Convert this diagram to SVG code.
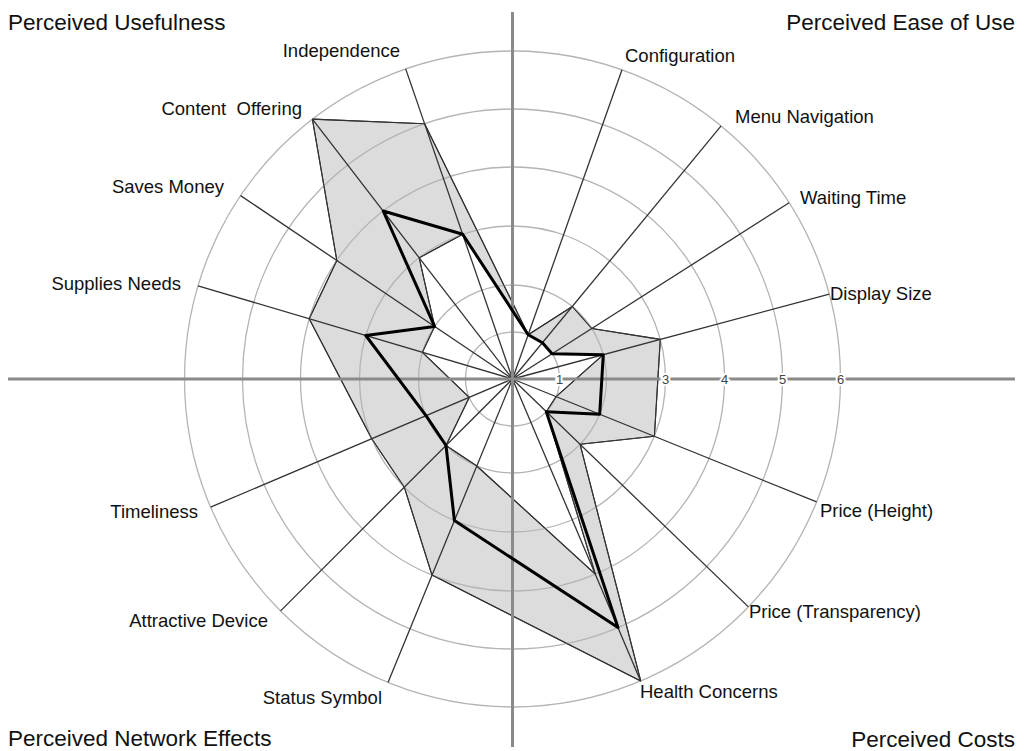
<svg xmlns="http://www.w3.org/2000/svg" width="1024" height="751" viewBox="0 0 1024 751">
<style>
.bg{fill:#ffffff}
.ring{fill:none;stroke:#b4b4b4;stroke-width:1.3}
.spoke{stroke:#333;stroke-width:1.3}
.axis{stroke:#8a8a8a;stroke-width:3}
.maxs{fill:#dcdcdc;stroke:#333;stroke-width:1.1;stroke-linejoin:round}
.mins{fill:#ffffff;stroke:#333;stroke-width:1.1;stroke-linejoin:round}
.mean{fill:none;stroke:#000;stroke-width:3;stroke-linejoin:round}
.lbl{font-family:"Liberation Sans",Arial,sans-serif;font-size:18.5px;fill:#111}
.quad{font-family:"Liberation Sans",Arial,sans-serif;font-size:22.5px;fill:#111}
.tick{font-family:"Liberation Sans",Arial,sans-serif;font-size:13px;fill:#444;text-anchor:middle;stroke:#fff;stroke-width:4;paint-order:stroke}
</style>
<rect class="bg" x="0" y="0" width="1024" height="751"/>
<g id="series-max">
<polygon class="maxs" points="528.2,334.7 572.3,306.5 591.8,328.5 660.3,339.4 654.4,436.3 580.1,444.3 640.7,680.9 432.0,575.1 404.3,487.2 371.7,438.8 309.2,318.8 336.8,260.4 312.4,119.1 424.6,123.7"/>
</g>
<g id="series-min">
<polygon class="mins" points="528.2,334.7 542.4,342.7 552.1,353.7 603.3,354.7 556.1,396.6 546.3,411.7 595.3,574.1 476.8,466.0 446.0,445.5 469.2,397.4 422.4,352.3 434.6,326.4 419.2,257.8 462.7,234.3"/>
</g>
<g id="grid">
<circle class="ring" cx="512.5" cy="379" r="47"/>
<circle class="ring" cx="512.5" cy="379" r="94"/>
<circle class="ring" cx="512.5" cy="379" r="153"/>
<circle class="ring" cx="512.5" cy="379" r="212"/>
<circle class="ring" cx="512.5" cy="379" r="270"/>
<circle class="ring" cx="512.5" cy="379" r="328"/>
</g>
<g id="connectors">
<line class="spoke" x1="512.5" y1="379" x2="622.0" y2="69.8"/>
<line class="spoke" x1="512.5" y1="379" x2="721.1" y2="125.9"/>
<line class="spoke" x1="512.5" y1="379" x2="789.1" y2="202.8"/>
<line class="spoke" x1="512.5" y1="379" x2="829.3" y2="294.1"/>
<line class="spoke" x1="512.5" y1="379" x2="816.6" y2="501.9"/>
<line class="spoke" x1="512.5" y1="379" x2="748.4" y2="606.9"/>
<line class="spoke" x1="512.5" y1="379" x2="640.6" y2="680.9"/>
<line class="spoke" x1="512.5" y1="379" x2="388.0" y2="682.5"/>
<line class="spoke" x1="512.5" y1="379" x2="280.6" y2="610.9"/>
<line class="spoke" x1="512.5" y1="379" x2="210.6" y2="507.1"/>
<line class="spoke" x1="512.5" y1="379" x2="198.0" y2="285.8"/>
<line class="spoke" x1="512.5" y1="379" x2="240.6" y2="195.6"/>
<line class="spoke" x1="512.5" y1="379" x2="312.4" y2="119.1"/>
<line class="spoke" x1="512.5" y1="379" x2="405.7" y2="68.9"/>
</g>
<g id="outlines">
<polygon fill="none" stroke="#333" stroke-width="1.1" stroke-linejoin="round" points="528.2,334.7 572.3,306.5 591.8,328.5 660.3,339.4 654.4,436.3 580.1,444.3 640.7,680.9 432.0,575.1 404.3,487.2 371.7,438.8 309.2,318.8 336.8,260.4 312.4,119.1 424.6,123.7"/>
<polygon fill="none" stroke="#333" stroke-width="1.1" stroke-linejoin="round" points="528.2,334.7 542.4,342.7 552.1,353.7 603.3,354.7 556.1,396.6 546.3,411.7 595.3,574.1 476.8,466.0 446.0,445.5 469.2,397.4 422.4,352.3 434.6,326.4 419.2,257.8 462.7,234.3"/>
</g>
<g id="axes">
<line class="axis" x1="8" y1="379" x2="1015" y2="379"/>
<line class="axis" x1="512.5" y1="12" x2="512.5" y2="747"/>
</g>
<g id="series-mean">
<polygon class="mean" points="528.2,334.7 542.4,342.7 552.1,353.7 603.3,354.7 599.7,414.2 546.3,411.7 618.0,627.5 454.4,520.6 446.0,445.5 426.0,415.7 365.8,335.5 434.6,326.4 383.2,211.0 462.7,234.3"/>
</g>
<g id="scale">
<text class="tick" x="559.5" y="384">1</text>
<text class="tick" x="665.5" y="384">3</text>
<text class="tick" x="724.5" y="384">4</text>
<text class="tick" x="782.5" y="384">5</text>
<text class="tick" x="840.5" y="384">6</text>
</g>
<g id="node-configuration"><text class="lbl" x="625" y="62">Configuration</text></g>
<g id="node-menu-navigation"><text class="lbl" x="735" y="123">Menu Navigation</text></g>
<g id="node-waiting-time"><text class="lbl" x="800" y="204">Waiting Time</text></g>
<g id="node-display-size"><text class="lbl" x="830" y="300">Display Size</text></g>
<g id="node-price-height"><text class="lbl" x="820" y="517">Price (Height)</text></g>
<g id="node-price-transparency"><text class="lbl" x="749" y="618">Price (Transparency)</text></g>
<g id="node-health-concerns"><text class="lbl" x="640" y="698">Health Concerns</text></g>
<g id="node-status-symbol"><text class="lbl" x="382" y="704" text-anchor="end">Status Symbol</text></g>
<g id="node-attractive-device"><text class="lbl" x="268" y="627" text-anchor="end">Attractive Device</text></g>
<g id="node-timeliness"><text class="lbl" x="198" y="518" text-anchor="end">Timeliness</text></g>
<g id="node-supplies-needs"><text class="lbl" x="181" y="290" text-anchor="end">Supplies Needs</text></g>
<g id="node-saves-money"><text class="lbl" x="224" y="193" text-anchor="end">Saves Money</text></g>
<g id="node-content-offering"><text class="lbl" x="302" y="115" text-anchor="end" xml:space="preserve">Content  Offering</text></g>
<g id="node-independence"><text class="lbl" x="400" y="57" text-anchor="end">Independence</text></g>
<g id="quadrants">
<text class="quad" x="8" y="30">Perceived Usefulness</text>
<text class="quad" x="1015" y="30" text-anchor="end">Perceived Ease of Use</text>
<text class="quad" x="8" y="746">Perceived Network Effects</text>
<text class="quad" x="1015" y="747" text-anchor="end">Perceived Costs</text>
</g>
</svg>
